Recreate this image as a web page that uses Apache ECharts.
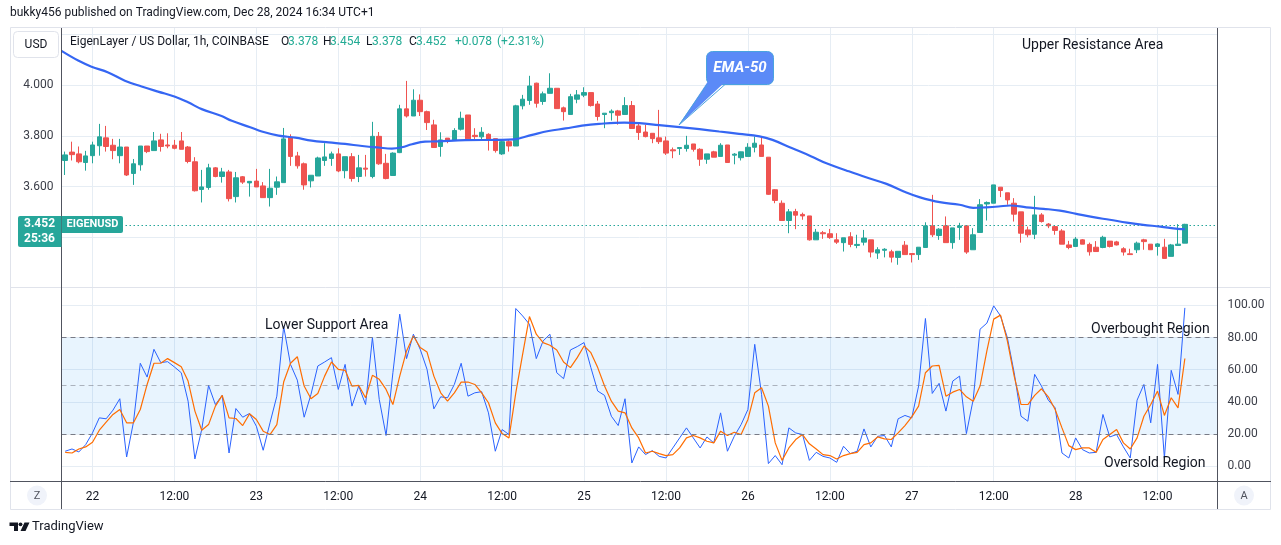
<!DOCTYPE html>
<html><head><meta charset="utf-8">
<script src="https://cdn.jsdelivr.net/npm/echarts@6/dist/echarts.min.js"></script>
<style>html,body{margin:0;padding:0;background:#fff}#c{width:1281px;height:545px}</style>
</head><body><div id="c"></div>
<script>
// ---- data (hourly candles, index 0 = Dec 21 20:00) ----
const opens = [3.703,3.736,3.729,3.695,3.722,3.761,3.792,3.763,3.722,3.756,3.652,3.686,3.760,3.742,3.784,3.764,3.763,3.780,3.756,3.698,3.589,3.597,3.674,3.640,3.658,3.561,3.639,3.615,3.622,3.603,3.557,3.598,3.616,3.795,3.721,3.690,3.623,3.642,3.703,3.711,3.729,3.663,3.718,3.640,3.673,3.640,3.798,3.692,3.644,3.734,3.906,3.878,3.940,3.895,3.843,3.758,3.791,3.784,3.826,3.882,3.802,3.796,3.806,3.789,3.729,3.777,3.760,3.918,3.939,4.007,3.935,3.967,3.987,3.910,3.884,3.944,3.960,3.970,3.925,3.884,3.891,3.898,3.884,3.919,3.839,3.815,3.810,3.792,3.780,3.745,3.750,3.750,3.768,3.747,3.708,3.737,3.719,3.764,3.724,3.714,3.719,3.755,3.764,3.716,3.588,3.535,3.467,3.502,3.491,3.485,3.391,3.419,3.415,3.391,3.380,3.403,3.369,3.382,3.391,3.339,3.350,3.344,3.322,3.370,3.337,3.333,3.361,3.446,3.408,3.446,3.380,3.440,3.446,3.352,3.420,3.532,3.535,3.598,3.576,3.535,3.501,3.430,3.413,3.489,3.453,3.443,3.426,3.371,3.365,3.391,3.373,3.362,3.361,3.386,3.383,3.356,3.336,3.352,3.391,3.374,3.365,3.362,3.326,3.369,3.378];
const closes = [3.725,3.726,3.698,3.721,3.764,3.796,3.758,3.742,3.756,3.646,3.690,3.760,3.738,3.780,3.758,3.760,3.751,3.747,3.699,3.584,3.599,3.674,3.640,3.658,3.553,3.635,3.618,3.621,3.599,3.557,3.594,3.619,3.788,3.719,3.682,3.607,3.645,3.713,3.717,3.729,3.662,3.718,3.632,3.674,3.669,3.798,3.690,3.632,3.732,3.906,3.878,3.940,3.895,3.852,3.754,3.784,3.780,3.821,3.869,3.788,3.797,3.814,3.787,3.742,3.777,3.760,3.918,3.944,3.996,3.928,3.965,3.987,3.907,3.895,3.954,3.961,3.970,3.919,3.876,3.889,3.897,3.881,3.919,3.829,3.813,3.797,3.789,3.777,3.732,3.741,3.754,3.763,3.747,3.708,3.729,3.716,3.763,3.695,3.728,3.737,3.755,3.771,3.719,3.570,3.546,3.467,3.501,3.488,3.485,3.391,3.421,3.415,3.400,3.382,3.399,3.373,3.373,3.398,3.343,3.352,3.354,3.323,3.346,3.333,3.333,3.362,3.446,3.411,3.433,3.380,3.438,3.445,3.343,3.411,3.529,3.538,3.607,3.585,3.548,3.492,3.417,3.411,3.489,3.463,3.446,3.428,3.374,3.361,3.394,3.374,3.344,3.345,3.401,3.365,3.371,3.343,3.333,3.378,3.384,3.352,3.375,3.318,3.371,3.374,3.452];
const lows = [3.646,3.703,3.692,3.663,3.692,3.722,3.738,3.708,3.692,3.642,3.607,3.663,3.732,3.742,3.738,3.751,3.747,3.747,3.692,3.581,3.538,3.588,3.637,3.616,3.542,3.538,3.611,3.561,3.599,3.557,3.522,3.568,3.616,3.682,3.671,3.588,3.597,3.642,3.682,3.682,3.657,3.633,3.620,3.618,3.640,3.633,3.686,3.629,3.644,3.732,3.872,3.878,3.878,3.823,3.754,3.718,3.771,3.780,3.821,3.788,3.781,3.787,3.742,3.734,3.725,3.738,3.760,3.904,3.922,3.911,3.922,3.967,3.907,3.860,3.884,3.928,3.952,3.915,3.860,3.830,3.860,3.844,3.884,3.829,3.784,3.794,3.771,3.768,3.725,3.712,3.725,3.738,3.738,3.682,3.690,3.716,3.719,3.695,3.688,3.703,3.719,3.735,3.719,3.568,3.535,3.467,3.417,3.433,3.470,3.388,3.391,3.395,3.395,3.375,3.345,3.362,3.358,3.369,3.322,3.316,3.322,3.302,3.293,3.333,3.302,3.312,3.361,3.402,3.391,3.380,3.356,3.391,3.336,3.352,3.420,3.467,3.535,3.559,3.529,3.463,3.380,3.401,3.394,3.459,3.437,3.411,3.374,3.354,3.365,3.374,3.329,3.345,3.358,3.361,3.369,3.329,3.333,3.339,3.352,3.352,3.329,3.318,3.326,3.369,3.378];
const highs = [3.738,3.777,3.758,3.741,3.777,3.847,3.839,3.788,3.788,3.756,3.709,3.760,3.760,3.815,3.808,3.810,3.784,3.815,3.760,3.716,3.666,3.690,3.677,3.674,3.666,3.658,3.642,3.622,3.670,3.618,3.670,3.640,3.831,3.806,3.737,3.695,3.645,3.718,3.771,3.738,3.751,3.718,3.732,3.725,3.725,3.855,3.815,3.729,3.735,3.922,4.016,3.983,3.963,3.899,3.863,3.814,3.791,3.830,3.895,3.882,3.830,3.834,3.810,3.789,3.784,3.784,3.922,3.961,4.036,4.009,3.974,4.046,3.987,3.915,3.965,3.980,3.991,3.970,3.937,3.889,3.904,3.902,3.952,3.937,3.850,3.843,3.810,3.902,3.797,3.754,3.754,3.800,3.768,3.751,3.729,3.741,3.771,3.764,3.732,3.738,3.771,3.797,3.797,3.716,3.590,3.546,3.512,3.513,3.498,3.485,3.434,3.426,3.434,3.417,3.399,3.421,3.411,3.430,3.391,3.362,3.358,3.352,3.346,3.386,3.337,3.362,3.460,3.568,3.437,3.483,3.438,3.458,3.446,3.437,3.551,3.542,3.607,3.598,3.576,3.555,3.501,3.443,3.564,3.496,3.457,3.446,3.433,3.387,3.402,3.394,3.380,3.386,3.407,3.386,3.387,3.362,3.356,3.384,3.395,3.374,3.378,3.395,3.375,3.453,3.454];
// EMA-50: [hour index, value]
const emaX = [-0.54,1.9,3.86,6.3,8.74,11.2,13.6,16.1,18.0,20.0,22.9,24.4,27.1,28.8,31.25,33.7,36.1,38.6,41.0,43.5,45.9,47.85,49.3,50.8,52.7,54.5,58.6,63.5,65.7,68.4,70.8,73.3,75.7,78.2,81.9,84.1,87.0,90.0,92.9,95.8,98.7,101.7,103.6,106.5,109.3,111.5,114.4,117.3,120.3,123.2,125.1,128.1,131.0,133.0,134.9,136.7,138.4,140.8,143.3,145.7,148.1,150.6,153.0,155.5,157.9,160.4,163.0,164.0];
const emaY = [4.134,4.096,4.072,4.049,4.017,3.994,3.974,3.954,3.932,3.905,3.878,3.859,3.834,3.817,3.801,3.793,3.781,3.774,3.768,3.760,3.754,3.750,3.755,3.767,3.777,3.778,3.783,3.784,3.786,3.804,3.819,3.829,3.840,3.847,3.852,3.850,3.842,3.834,3.826,3.817,3.808,3.798,3.784,3.751,3.719,3.692,3.664,3.637,3.611,3.577,3.559,3.539,3.529,3.517,3.519,3.522,3.526,3.519,3.513,3.506,3.493,3.480,3.470,3.459,3.450,3.443,3.434,3.433];
// Stochastic RSI %K and %D
const stochK = [9.2,10.6,8.75,13.3,20.6,30,29.4,34.8,41.9,5.6,27.3,64,55.4,72.7,64.4,65,61.7,58.1,40.4,4.4,22.7,50.2,38.3,44,8.1,35.8,30.4,32.7,24.8,9.8,26.9,43.5,86.9,63.3,53.5,30.4,44.6,62.3,64.8,67.5,47.7,63.3,37.3,49.8,38.3,80,41.5,19,58.1,94.6,66.9,82.1,72.7,60.2,35.6,43.1,42.5,50.8,64,43.5,45.6,46.3,33.1,9.2,22.7,19.6,98.1,93.5,88.3,66.9,77.9,82.1,58.1,54.4,72.3,74.4,76.9,61.3,46.7,44,31,25.2,41.9,1.9,11.9,7.1,9.6,6,5,11.25,17.5,23.75,17.5,11.25,18.1,14.4,33.1,9.2,18.5,25.8,35.2,75.8,44.6,1.5,6.5,0.8,23.75,20.6,19.6,3.5,8.5,6,5,2.3,12.3,7.7,9.2,23.1,11.9,18.5,19,11.9,29.4,31.5,30,49.8,91.9,45.2,51.5,34.2,52.9,56,20.2,41.5,85.2,89,99.8,93.5,80,58.1,31,27.9,57.1,49.8,41,36.25,8.1,5,17.5,10.2,8.1,8.5,32.1,18.1,19.6,11.9,5,41,50.8,26.9,63.3,5,59.6,44.6,98.5];
const stochD = [8.5,8.1,10.6,11.9,14.8,22.3,27.3,32.1,35.2,26.9,26.9,35.2,50.8,64,64,66.9,64.4,61.9,52.9,34.2,22.3,25.8,37.3,44,30,29.6,25.2,32.5,29,21.7,19.6,25.8,52.3,64,68.1,49.8,41.9,45.2,56,64.8,60.2,59.6,49.8,50.2,42.5,56.5,54,47.7,38.3,56,71.7,81,73.8,71,56,45.6,40.4,45.6,52.3,52.3,50.8,45.6,39.4,26.9,20.2,17.5,45.6,69.6,93.1,82.1,76.9,75.2,72.3,64.8,61.3,67.5,74.8,70.6,61.3,49.8,40.4,34.2,33.1,23.75,17.5,8.1,9.2,7.7,6.5,7.1,11.25,17.5,19,17.5,15.4,14.4,21.7,19,21,19.6,29,45.6,48.75,37.3,14.4,3.5,11.25,16.5,19.6,13.8,10.6,7.1,6.5,4.4,6.5,7.7,8.5,13.3,14.4,18.1,16.9,16.5,20.6,25.2,30.6,37.3,58.1,62.3,62.7,43.5,46,47.7,43.1,40.4,49.8,71.7,91.5,94,77.9,56,38.3,38.3,44,48.1,43.1,35.2,23.75,12.7,10.2,11.25,11.25,8.5,16.5,19.6,22.7,14.4,10.6,17.5,31,38.3,46.7,31.5,42.5,36.25,67];
// axis ticks
const xTicks = [4,16,28,40,52,64,76,88,100,112,124,136,148,160];
const xTickLabels = ['22','12:00','23','12:00','24','12:00','25','12:00','26','12:00','27','12:00','28','12:00'];
const priceGrid = [3.4,3.6,3.8,4.0,4.2];
const priceLabels = [3.6,3.8,4.0];
const oscTicks = [0,20,40,60,80,100];
const lastPrice = 3.452;

const FONT = 'Roboto, "Noto Sans", sans-serif';
const TXT = '#131722';
const GRIDC = '#e6edf4';
const UP = '#26a69a', DOWN = '#ef5350';
const XMIN = -0.54, XMAX = 168.78;

const candleData = opens.map((o, i) => [i, o, closes[i], lows[i], highs[i]]);
const emaData = emaX.map((x, i) => [x, emaY[i]]);
const kData = stochK.map((v, i) => [i, v]);
const dData = stochD.map((v, i) => [i, v]);

function xAxisCfg(grid, showLabel) {
  return {
    type: 'value', gridIndex: grid, min: XMIN, max: XMAX,
    axisLine: {show: false},
    axisTick: {show: false, customValues: xTicks},
    axisLabel: {show: showLabel, customValues: xTicks, margin: 9, color: TXT, fontSize: 12, fontFamily: FONT,
      formatter: v => { const k = xTicks.indexOf(Math.round(v)); return k >= 0 ? xTickLabels[k] : ''; }},
    splitLine: {show: true, lineStyle: {color: GRIDC, width: 1}}
  };
}

const chart = echarts.init(document.getElementById('c'), null, {renderer: 'canvas'});
const g = [];
function txt(x, y, s, o) {
  g.push(Object.assign({type: 'text', x: x, y: y, z: 120,
    style: Object.assign({text: s, fill: TXT, font: '12px ' + FONT, textVerticalAlign: 'middle', textAlign: 'left'}, o || {})}));
}
function line(x1, y1, x2, y2, c) {
  g.push({type: 'line', z: 110, shape: {x1, y1, x2, y2}, style: {stroke: c, lineWidth: 1}});
}
// frame
g.push({type: 'rect', z: 100, shape: {x: 10.5, y: 27.5, width: 1260, height: 482}, style: {fill: 'none', stroke: '#e0e3eb', lineWidth: 1}});
line(10, 287.5, 1271, 287.5, '#e0e3eb');
line(61.5, 28, 61.5, 509, '#50535e');
line(1217.5, 28, 1217.5, 509, '#50535e');
line(10, 481.5, 1271, 481.5, '#50535e');
// title line
txt(10, 13, 'bukky456 published on TradingView.com, Dec 28, 2024 16:34 UTC+1', {font: '12px ' + FONT});
// USD button
g.push({type: 'rect', z: 115, shape: {x: 13.5, y: 31.5, width: 45, height: 26, r: 4}, style: {fill: '#fff', stroke: '#e0e3eb', lineWidth: 1}});
txt(36, 44.5, 'USD', {textAlign: 'center'});
// header legend
const TEAL = '#22ab94';
txt(70, 42, 'EigenLayer / US Dollar, 1h, COINBASE');
txt(281, 42, 'O'); txt(288, 42, '3.378', {fill: TEAL});
txt(323, 42, 'H'); txt(330, 42, '3.454', {fill: TEAL});
txt(366, 42, 'L'); txt(372, 42, '3.378', {fill: TEAL});
txt(409, 42, 'C'); txt(416, 42, '3.452', {fill: TEAL});
txt(455, 42, '+0.078', {fill: TEAL}); txt(497, 42, '(+2.31%)', {fill: TEAL});
// last price badges
g.push({type: 'rect', z: 115, shape: {x: 18, y: 216, width: 43.5, height: 31, r: [2, 0, 0, 2]}, style: {fill: UP}});
txt(39.5, 224, '3.452', {fill: '#fff', textAlign: 'center', font: 'bold 12px ' + FONT});
txt(39.5, 239, '25:36', {fill: '#fff', textAlign: 'center', font: 'bold 12px ' + FONT});
g.push({type: 'rect', z: 115, shape: {x: 62, y: 216, width: 61, height: 17, r: [0, 2, 2, 0]}, style: {fill: UP}});
txt(92.5, 224.5, 'EIGENUSD', {fill: '#fff', textAlign: 'center', font: 'bold 11px ' + FONT});
// annotations
txt(1022, 45, 'Upper Resistance Area', {font: '14px ' + FONT});
txt(265, 325, 'Lower Support Area', {font: '14px ' + FONT});
txt(1091, 329, 'Overbought Region', {font: '14px ' + FONT});
txt(1104, 463, 'Oversold Region', {font: '14px ' + FONT});
// EMA-50 callout
g.push({type: 'rect', z: 115, shape: {x: 706.5, y: 51.5, width: 67, height: 33, r: 6}, style: {fill: '#5b8af7', stroke: '#4aa3df', lineWidth: 1}});
g.push({type: 'polygon', z: 116, shape: {points: [[707.5, 82], [725, 82], [679, 125]]}, style: {fill: '#5b8af7'}});
g.push({type: 'polyline', z: 117, shape: {points: [[707, 84.5], [679, 125], [725, 84.5]]}, style: {stroke: '#4aa3df', fill: 'none', lineWidth: 1}});
txt(740, 68, 'EMA-50', {fill: '#fff', textAlign: 'center', font: 'italic bold 15px ' + FONT});
// Z / A buttons
g.push({type: 'circle', z: 115, shape: {cx: 37, cy: 495.5, r: 10}, style: {fill: '#f0f3fa'}});
txt(37, 496, 'Z', {textAlign: 'center', fill: '#50535e', font: '11px ' + FONT});
g.push({type: 'circle', z: 115, shape: {cx: 1244, cy: 495.5, r: 10}, style: {fill: '#f0f3fa'}});
txt(1244, 496, 'A', {textAlign: 'center', fill: '#50535e', font: '11px ' + FONT});
// TradingView logo
g.push({type: 'polygon', z: 115, shape: {points: [[9.5, 522.5], [18, 522.5], [18, 531], [14, 531], [14, 526], [9.5, 526]]}, style: {fill: TXT}});
g.push({type: 'circle', z: 115, shape: {cx: 20.5, cy: 524.3, r: 1.9}, style: {fill: TXT}});
g.push({type: 'polygon', z: 115, shape: {points: [[24.5, 522.5], [29.5, 522.5], [25.5, 531], [20.5, 531]]}, style: {fill: TXT}});
txt(32, 527, 'TradingView', {font: '13px ' + FONT});

chart.setOption({
  animation: false,
  backgroundColor: '#ffffff',
  grid: [
    {left: 61.5, top: 28, width: 1156, height: 259.5},
    {left: 61.5, top: 288, width: 1156, height: 193.5}
  ],
  xAxis: [xAxisCfg(0, false), xAxisCfg(1, true)],
  yAxis: [
    {type: 'value', gridIndex: 0, min: 3.2036, max: 4.224, position: 'left',
      axisLine: {show: false}, axisTick: {show: false, customValues: priceGrid},
      axisLabel: {customValues: priceLabels, formatter: v => v.toFixed(3), color: '#3b3e48', fontSize: 12, fontFamily: FONT, margin: 8},
      splitLine: {show: true, lineStyle: {color: GRIDC}}},
    {type: 'value', gridIndex: 1, min: -9.66, max: 110.9, position: 'right',
      axisLine: {show: false}, axisTick: {show: false, customValues: oscTicks},
      axisLabel: {customValues: oscTicks, formatter: v => v.toFixed(2), color: '#3b3e48', fontSize: 12, fontFamily: FONT, margin: 10, align: 'left'},
      splitLine: {show: true, lineStyle: {color: GRIDC}}}
  ],
  series: [
    {type: 'candlestick', xAxisIndex: 0, yAxisIndex: 0, data: candleData, barWidth: 5,
      itemStyle: {color: UP, color0: DOWN, borderColor: UP, borderColor0: DOWN, borderWidth: 1},
      markLine: {silent: true, symbol: 'none', label: {show: false},
        lineStyle: {color: UP, type: [1.5, 2.5], width: 1}, data: [{yAxis: lastPrice}]}},
    {type: 'line', xAxisIndex: 0, yAxisIndex: 0, data: emaData, smooth: 0.4, symbol: 'none',
      lineStyle: {color: '#3566f3', width: 2.2}, z: 5},
    {type: 'line', xAxisIndex: 1, yAxisIndex: 1, data: kData, symbol: 'none',
      lineStyle: {color: '#2962ff', width: 1},
      markArea: {silent: true, itemStyle: {color: 'rgba(33,150,243,0.1)'}, data: [[{yAxis: 20}, {yAxis: 80}]]},
      markLine: {silent: true, symbol: 'none', label: {show: false},
        data: [
          {yAxis: 80, lineStyle: {color: '#787b86', type: [5, 4], width: 1}},
          {yAxis: 20, lineStyle: {color: '#787b86', type: [5, 4], width: 1}},
          {yAxis: 50, lineStyle: {color: 'rgba(120,123,134,0.55)', type: [5, 4], width: 1}}
        ]}},
    {type: 'line', xAxisIndex: 1, yAxisIndex: 1, data: dData, symbol: 'none',
      lineStyle: {color: '#ff6d00', width: 1.2}}
  ],
  graphic: g
});
</script>
</body></html>
